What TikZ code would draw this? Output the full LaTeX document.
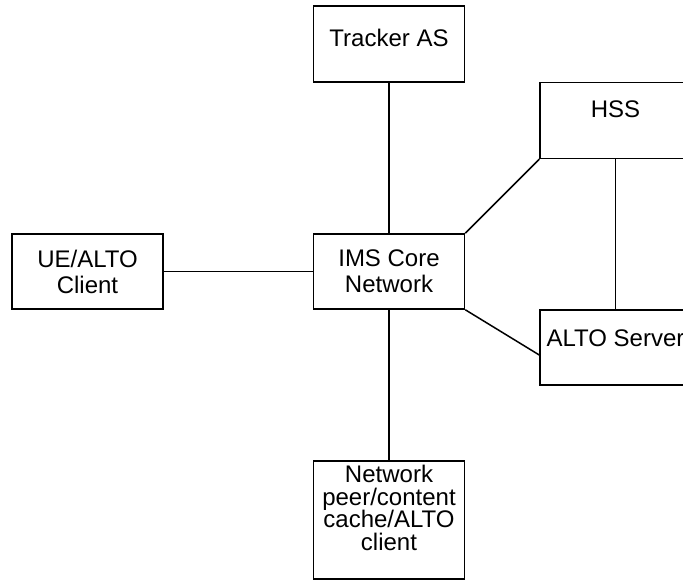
\documentclass[tikz,border=0pt]{standalone}
\usepackage{fontspec}
\setmainfont{Liberation Sans}
\lineskiplimit=-5pt
\tikzstyle{entbox} = [draw, line width=0.75pt, minimum width=75.5pt, inner sep=0pt]
\tikzstyle{enttext} = [align=center, inner sep=0pt, font=\fontsize{12}{13.2}\selectfont]
\tikzstyle{iflink} = [draw, line width=0.75pt]
\newcommand{\entity}[7][]{
  \node[entbox, minimum height=#5] (#2) at (#3,#4) {};
  \node[enttext, #1] (#2-t) at (#3,#6) {#7};
}

\begin{document}
\begin{tikzpicture}[x=0.5pt, y=-0.5pt]
\useasboundingbox (0,0) rectangle (683,581);
\clip (0,0) rectangle (683,581);
\entity{tracker}{389}{44}{38pt}{38}{Tracker AS}
\entity{hss}{615.5}{120.5}{38pt}{109}{HSS}
\entity{ue}{87.5}{271.5}{37.5pt}{272}{UE/ALTO\\Client}
\entity{ims}{389}{271.5}{37.5pt}{271}{IMS Core\\Network}
\entity{alto}{615.5}{347.5}{37.5pt}{338.7}{ALTO Server}
\entity[font=\fontsize{12}{11.2}\selectfont]{peer}{389}{520}{59pt}{508}{Network\\peer/content\\cache/ALTO\\client}

\draw[iflink] (tracker.south) -- (ims.north);
\draw[iflink] (ue.east) -- (ims.west);
\draw[iflink] (ims.north east) -- (hss.south west);
\draw[iflink] (ims.south east) -- ([yshift=-3.75pt]alto.west);
\draw[iflink] (hss.south) -- (alto.north);
\draw[iflink] (ims.south) -- (peer.north);
\end{tikzpicture}
\end{document}
